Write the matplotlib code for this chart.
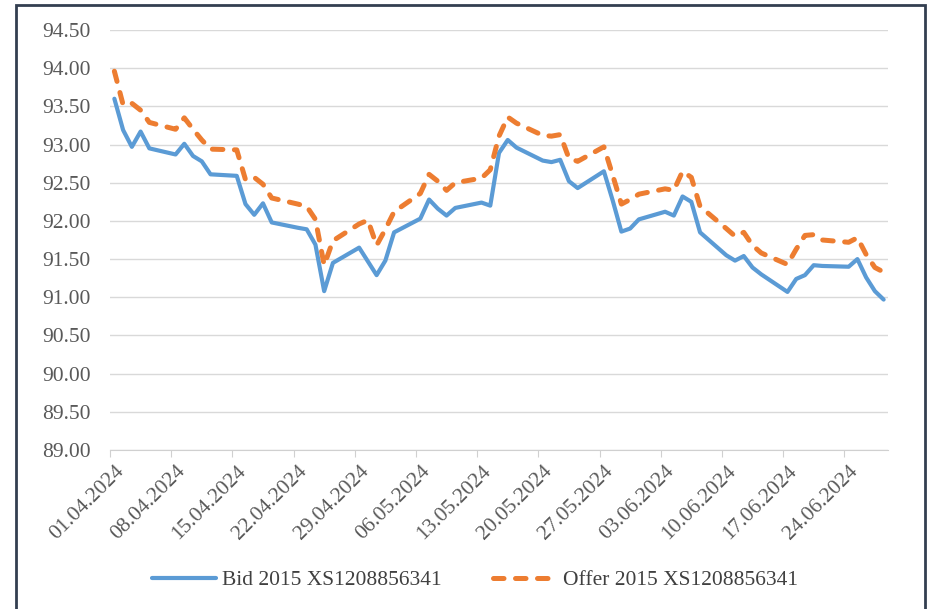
import numpy as np
import pandas as pd
import matplotlib
matplotlib.use("Agg")
import matplotlib.pyplot as plt
import matplotlib.dates as mdates
from matplotlib.patches import Rectangle
from matplotlib.transforms import ScaledTranslation

plt.rcParams['font.family'] = ['Liberation Serif', 'DejaVu Serif']

# business days 01.04.2024 - 28.06.2024
dates = pd.bdate_range("2024-04-01", "2024-06-28")

bid = [
    # April
    93.60, 93.19, 92.97, 93.17, 92.95,
    92.87, 93.01, 92.85, 92.78, 92.61,
    92.59, 92.22, 92.08, 92.23, 91.98,
    91.91, 91.89, 91.69, 91.08, 91.45,
    91.65, 91.47,
    # May
    91.29, 91.48, 91.85,
    92.03, 92.28, 92.16, 92.07, 92.17,
    92.24, 92.20, 92.89, 93.06, 92.96,
    92.79, 92.77, 92.80, 92.52, 92.43,
    92.65, 92.27, 91.86, 91.90, 92.02,
    # June
    92.12, 92.07, 92.32, 92.25, 91.85,
    91.55, 91.48, 91.54, 91.39, 91.30,
    91.07, 91.24, 91.29, 91.42, 91.41,
    91.40, 91.50, 91.26, 91.08, 90.97,
]
offer = [
    # April
    93.96, 93.52, 93.54, 93.45, 93.29,
    93.20, 93.35, 93.20, 93.06, 92.94,
    92.93, 92.54, 92.57, 92.48, 92.30,
    92.22, 92.19, 92.02, 91.42, 91.74,
    91.96, 92.01,
    # May
    91.68, 91.89, 92.12,
    92.36, 92.61, 92.52, 92.40, 92.50,
    92.56, 92.67, 93.11, 93.36, 93.28,
    93.12, 93.11, 93.13, 92.82, 92.78,
    92.97, 92.60, 92.22, 92.28, 92.35,
    # June
    92.42, 92.40, 92.65, 92.57, 92.19,
    91.90, 91.80, 91.85, 91.68, 91.58,
    91.43, 91.63, 91.81, 91.82, 91.75,
    91.72, 91.78, 91.56, 91.39, 91.33,
]
labels = ["Bid 2015 XS1208856341", "Offer 2015 XS1208856341"]

fig = plt.figure(figsize=(9.3, 6.09), dpi=100)
ax = fig.add_axes([110 / 930, 1 - 450 / 609, 778 / 930, 420 / 609])

# outer frame
fig.patches.append(Rectangle((16 / 930, -0.05), (925 - 16) / 930, 1.05 - 5 / 609,
                             transform=fig.transFigure, fill=False,
                             edgecolor='#333F50', lw=2))

x = dates + pd.Timedelta(hours=12)  # points sit in the middle of each day
ax.plot(x, bid, color='#5B9BD5', lw=3.0, solid_joinstyle='round',
        solid_capstyle='round', label=labels[0])
ax.plot(x, offer, color='#ED7D31', lw=3.6, dash_capstyle='round',
        dash_joinstyle='round', linestyle=(0, (2.1, 2.3)), label=labels[1])

ax.set_ylim(89, 94.5)
ax.set_yticks(np.arange(89, 94.51, 0.5))
ax.yaxis.set_major_formatter(plt.FormatStrFormatter('%.2f'))
ax.set_xlim(pd.Timestamp("2024-04-01"), pd.Timestamp("2024-06-29"))
ax.set_xticks(pd.date_range("2024-04-01", "2024-06-24", freq="7D"))
ax.xaxis.set_major_formatter(mdates.DateFormatter('%d.%m.%Y'))

ax.yaxis.grid(True, color='#D9D9D9', lw=1)
ax.set_axisbelow(True)
for s in ['top', 'right', 'left']:
    ax.spines[s].set_visible(False)
ax.spines['bottom'].set_color('#D0D0D0')
ax.tick_params(axis='y', length=0, pad=14, labelsize=15.5, labelcolor='#595959')
ax.tick_params(axis='x', length=5, color='#D0D0D0', pad=4, labelsize=15.5,
               labelcolor='#595959')
for lbl in ax.get_xticklabels():
    lbl.set_rotation(45)
    lbl.set_ha('right')
    lbl.set_va('center')
    lbl.set_rotation_mode('anchor')
    lbl.set_transform(lbl.get_transform() +
                      ScaledTranslation(11 / 100, -6 / 100, fig.dpi_scale_trans))

leg = fig.legend(loc='center', bbox_to_anchor=(475 / 930, 1 - 580 / 609), ncol=2,
                 frameon=False, fontsize=15.5, handlelength=3.0,
                 handletextpad=0.25, columnspacing=2.4)
for t in leg.get_texts():
    t.set_color('#404040')

fig.savefig("out.png", dpi=100)
